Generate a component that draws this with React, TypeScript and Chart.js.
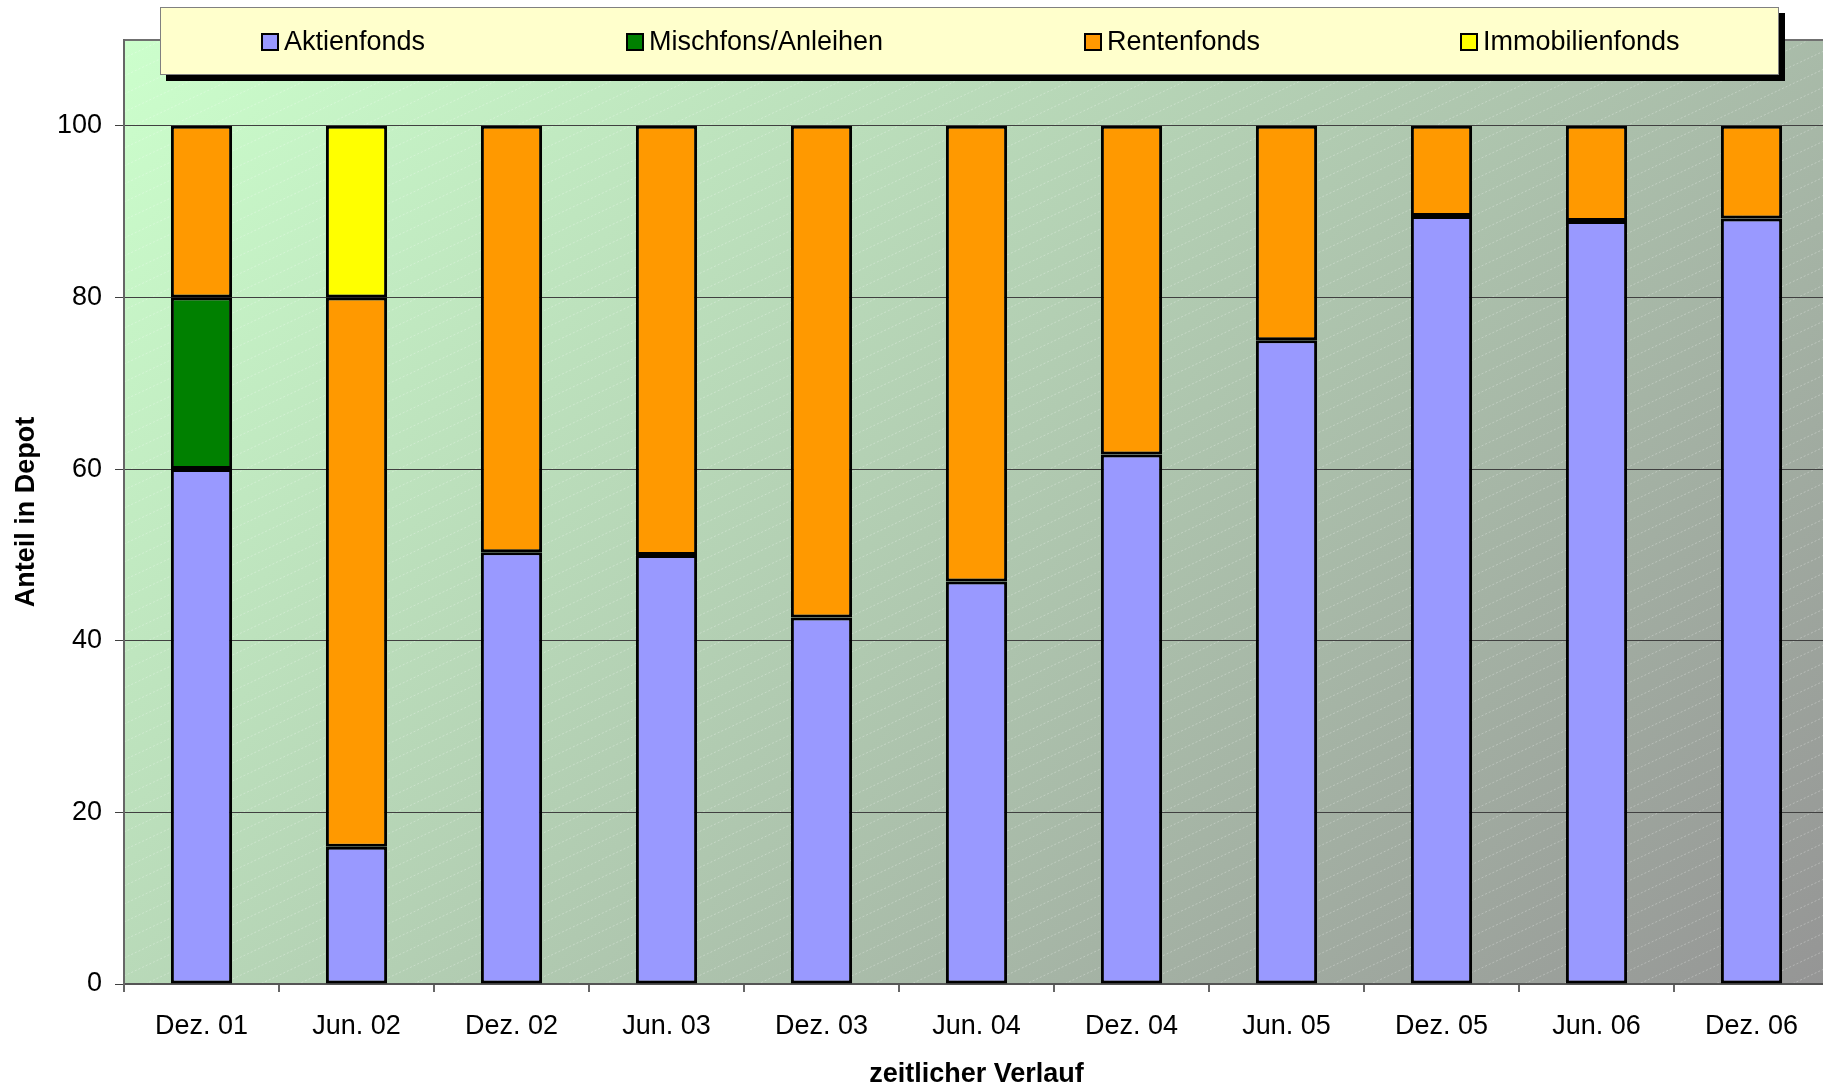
import React, { useEffect, useRef } from "react";
import { Chart, registerables } from "chart.js";

Chart.register(...registerables);

const categories = [
  "Dez. 01", "Jun. 02", "Dez. 02", "Jun. 03", "Dez. 03", "Jun. 04",
  "Dez. 04", "Jun. 05", "Dez. 05", "Jun. 06", "Dez. 06",
];
const aktienfonds = [60, 16, 50.3, 50, 42.7, 46.9, 61.7, 75, 89.5, 88.9, 89.2];
const mischfonds = [20, null, null, null, null, null, null, null, null, null, null];
const rentenfonds = [20, 64, 49.7, 50, 57.3, 53.1, 38.3, 25, 10.5, 11.1, 10.8];
const immobilienfonds = [null, 20, null, null, null, null, null, null, null, null, null];
const seriesNames = ["Aktienfonds", "Mischfons/Anleihen", "Rentenfonds", "Immobilienfonds"];
const seriesColors = ["#9999FF", "#008000", "#FF9900", "#FFFF00"];
const yTicks = [0, 20, 40, 60, 80, 100];
const yTitle = "Anteil in Depot";
const xTitle = "zeitlicher Verlauf";

const FONT = "'Liberation Sans', Arial, sans-serif";

const bgPlugin = {
  id: "bgPlugin",
  beforeDraw(chart: any) {
    const { ctx, chartArea: a } = chart;
    const w = a.right - a.left;
    const h = a.bottom - a.top;
    const d = (w + h) / 2;
    ctx.save();
    const g = ctx.createLinearGradient(a.left, a.top, a.left + d, a.top + d);
    g.addColorStop(0, "#CCFFCC");
    g.addColorStop(1, "#959595");
    ctx.fillStyle = g;
    ctx.fillRect(a.left, a.top, w, h);
    ctx.beginPath();
    ctx.rect(a.left, a.top, w, h);
    ctx.clip();
    ctx.beginPath();
    ctx.strokeStyle = "rgba(255,255,255,0.28)";
    ctx.lineWidth = 1;
    ctx.setLineDash([2, 2]);
    const slope = 0.47;
    for (let y0 = a.top; y0 < a.bottom + w * slope; y0 += 18) {
      ctx.moveTo(a.left, y0);
      ctx.lineTo(a.right, y0 - w * slope);
    }
    ctx.stroke();
    ctx.setLineDash([]);
    ctx.restore();
    ctx.save();
    ctx.strokeStyle = "#707070";
    ctx.lineWidth = 2;
    ctx.beginPath();
    ctx.moveTo(a.left, a.top);
    ctx.lineTo(a.right, a.top);
    ctx.stroke();
    ctx.restore();
  },
};

const legendPlugin = {
  id: "legendPlugin",
  afterDraw(chart: any) {
    const { ctx } = chart;
    const lx = 160, ly = 7, lw = 1619, lh = 68;
    ctx.save();
    ctx.fillStyle = "#000000";
    ctx.fillRect(lx + 6, ly + 6, lw, lh);
    ctx.fillStyle = "#FFFFCC";
    ctx.fillRect(lx, ly, lw, lh);
    ctx.strokeStyle = "#808080";
    ctx.lineWidth = 1;
    ctx.strokeRect(lx + 0.5, ly + 0.5, lw - 1, lh - 1);
    const offsets = [102, 467, 925, 1301];
    const cy = ly + lh / 2 + 1;
    ctx.font = `27px ${FONT}`;
    ctx.textBaseline = "middle";
    ctx.textAlign = "left";
    seriesNames.forEach((name, i) => {
      const bx = lx + offsets[i];
      ctx.fillStyle = seriesColors[i];
      ctx.fillRect(bx, cy - 8, 16, 16);
      ctx.strokeStyle = "#000000";
      ctx.lineWidth = 2;
      ctx.strokeRect(bx, cy - 8, 16, 16);
      ctx.fillStyle = "#000000";
      ctx.fillText(name, bx + 22, cy + 1);
    });
    ctx.restore();
  },
};

export default function App() {
  const ref = useRef<HTMLCanvasElement | null>(null);

  useEffect(() => {
    document.body.style.margin = "0";
    document.body.style.overflow = "hidden";
    const canvas = ref.current;
    if (!canvas) return;
    const seriesData = [aktienfonds, mischfonds, rentenfonds, immobilienfonds];
    const chart = new Chart(canvas, {
      type: "bar",
      data: {
        labels: categories,
        datasets: seriesNames.map((name, i) => ({
          label: name,
          data: seriesData[i] as any,
          backgroundColor: seriesColors[i],
          borderColor: "#000000",
          borderWidth: 3,
          borderSkipped: false,
          barPercentage: 0.395,
          categoryPercentage: 1,
        })),
      },
      options: {
        responsive: false,
        animation: false,
        devicePixelRatio: 1,
        layout: { padding: { top: 40, left: 0, right: 0, bottom: 0 } },
        plugins: {
          legend: { display: false },
          tooltip: { enabled: false },
        },
        scales: {
          x: {
            stacked: true,
            offset: true,
            grid: {
              offset: true,
              drawOnChartArea: false,
              drawTicks: true,
              tickLength: 8,
              color: "#666666",
              lineWidth: 2,
            },
            border: { display: true, color: "#555555", width: 2 },
            ticks: {
              color: "#000000",
              font: { family: FONT, size: 27 },
              padding: 18,
              maxRotation: 0,
              autoSkip: false,
            },
            title: {
              display: true,
              text: xTitle,
              color: "#000000",
              font: { family: FONT, size: 27, weight: "bold", lineHeight: 1.0 },
              padding: { top: 0, bottom: 0 },
            },
            afterFit(scale: any) {
              scale.height = 104;
            },
          },
          y: {
            stacked: true,
            min: 0,
            max: 110,
            afterBuildTicks(scale: any) {
              scale.ticks = yTicks.map((v) => ({ value: v }));
            },
            grid: {
              color: "#404040",
              lineWidth: 1,
              drawTicks: true,
              tickLength: 9,
            },
            border: { display: true, color: "#666666", width: 2 },
            ticks: {
              color: "#000000",
              font: { family: FONT, size: 27 },
              padding: 13,
            },
            title: {
              display: true,
              text: yTitle,
              color: "#000000",
              font: { family: FONT, size: 27, weight: "bold" },
              padding: { top: 10, bottom: 0 },
            },
            afterFit(scale: any) {
              scale.width = 124;
            },
          },
        },
      },
      plugins: [bgPlugin, legendPlugin],
    });
    return () => chart.destroy();
  }, []);

  return (
    <canvas
      ref={ref}
      width={1829}
      height={1088}
      style={{ display: "block", width: "1829px", height: "1088px" }}
    />
  );
}
